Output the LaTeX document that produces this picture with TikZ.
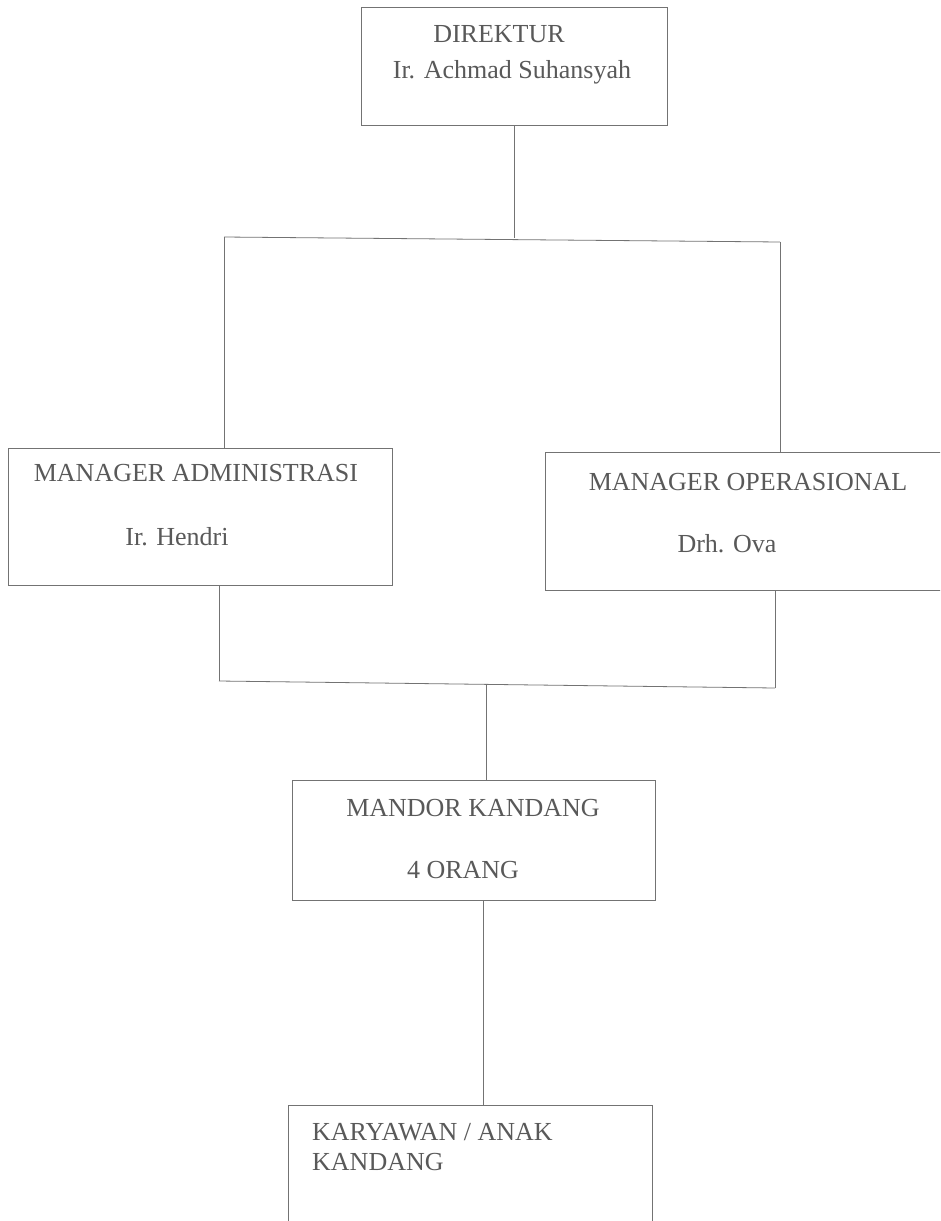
\documentclass[tikz,border=0pt]{standalone}
\usepackage{fontspec}
\setmainfont{Liberation Serif}
\begin{document}
\begin{tikzpicture}[x=1pt,y=-1pt,
  box/.style={draw=black!55, line width=0.8pt, rectangle, inner sep=0pt},
  link/.style={draw=black!55, line width=0.8pt},
  lbl/.style={text=black!65, inner sep=0pt, font=\fontsize{26}{29}\selectfont}]
\useasboundingbox (0,0) rectangle (940,1221);
\clip (0,0) rectangle (940,1221);
\fill[white] (0,0) rectangle (940,1221);
% boxes
\node[box, minimum width=306pt, minimum height=118pt] (dir) at (514,66) {};
\node[box, minimum width=384pt, minimum height=137pt] (adm) at (200,516.5) {};
\node[box, minimum width=400pt, minimum height=138pt] (ops) at (745,521) {};
\node[box, minimum width=363pt, minimum height=120pt] (man) at (473.5,840) {};
\node[box, minimum width=364pt, minimum height=130pt] (kar) at (470,1170) {};
% texts
\node[lbl] (t1) at (499,34) {DIREKTUR};
\node[lbl] (t2) at (512,72) {Ir. Achmad Suhansyah};
\node[lbl] (t3) at (196,473) {MANAGER ADMINISTRASI};
\node[lbl] (t4) at (177,537) {Ir. Hendri};
\node[lbl] (t5) at (748,482) {MANAGER OPERASIONAL};
\node[lbl] (t6) at (727,544) {Drh. Ova};
\node[lbl] (t7) at (473,808) {MANDOR KANDANG};
\node[lbl] (t8) at (463,870) {4 ORANG};
\node[lbl, anchor=west] (t9) at (312,1132) {KARYAWAN / ANAK};
\node[lbl, anchor=west] (t10) at (312,1162) {KANDANG};
% junctions
\coordinate (j1) at (dir.south |- 0,238);
\coordinate (jl) at (224,237);
\coordinate (jr) at (780,242);
\coordinate (jl2) at (219,681);
\coordinate (jr2) at (775,688);
\coordinate (jm2) at (486,684);
% connectors
\draw[link] (dir.south) -- (j1);
\draw[link] (jl) -- (jr);
\draw[link] (jl) -- (jl |- adm.north);
\draw[link] (jr) -- (jr |- ops.north);
\draw[link] (jl2 |- adm.south) -- (jl2);
\draw[link] (jr2 |- ops.south) -- (jr2);
\draw[link] (jl2) -- (jr2);
\draw[link] (jm2) -- (jm2 |- man.north);
\draw[link] (man.south -| 483,0) -- (kar.north -| 483,0);
\end{tikzpicture}
\end{document}
